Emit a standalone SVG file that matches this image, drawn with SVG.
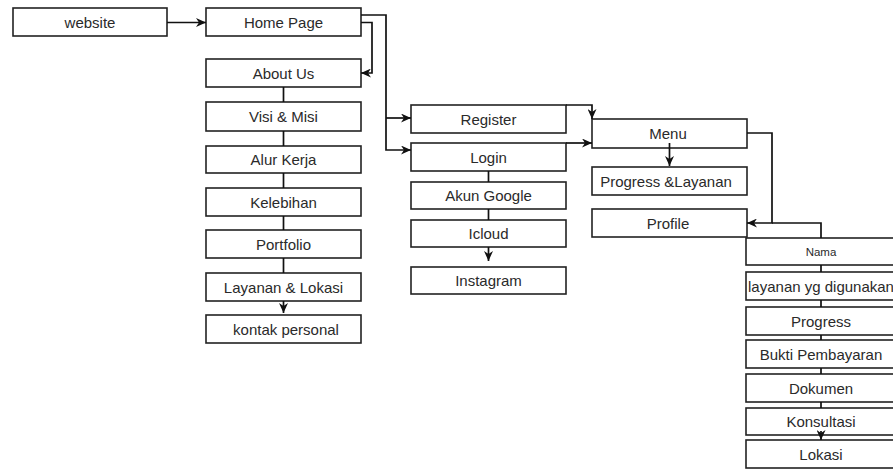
<svg xmlns="http://www.w3.org/2000/svg" width="893" height="470" viewBox="0 0 893 470">
<style>
.box{fill:#fff;stroke:#222;stroke-width:1.6}
.t{font-family:"Liberation Sans",Arial,sans-serif;font-size:15px;fill:#2a2a2a;text-anchor:middle;dominant-baseline:central}
.s{font-size:11.5px}
.c{fill:none;stroke:#111;stroke-width:1.7}
</style>
<defs>
<marker id="a" viewBox="0 0 10 9" markerWidth="10" markerHeight="9" refX="10" refY="4.5" orient="auto" markerUnits="userSpaceOnUse">
<path d="M0,0 L10,4.5 L0,9 L3,4.5 Z" fill="#111"/>
</marker>
</defs>
<rect width="893" height="470" fill="#fff"/>
<g id="website"><rect class="box" x="13" y="8" width="154" height="28"/><text class="t" x="90" y="22">website</text></g>
<g id="home"><rect class="box" x="206" y="8" width="155" height="28"/><text class="t" x="283.5" y="22">Home Page</text></g>
<g id="about"><rect class="box" x="206" y="59" width="155" height="28"/><text class="t" x="283.5" y="73">About Us</text></g>
<g id="visi"><rect class="box" x="206" y="102" width="155" height="29"/><text class="t" x="283.5" y="116.5">Visi &amp; Misi</text></g>
<g id="alur"><rect class="box" x="206" y="146" width="155" height="27"/><text class="t" x="283.5" y="159.5">Alur Kerja</text></g>
<g id="kelebihan"><rect class="box" x="206" y="188" width="155" height="28"/><text class="t" x="283.5" y="202">Kelebihan</text></g>
<g id="portfolio"><rect class="box" x="206" y="230" width="155" height="28"/><text class="t" x="283.5" y="244">Portfolio</text></g>
<g id="layanan-lokasi"><rect class="box" x="206" y="273" width="155" height="28"/><text class="t" x="283.5" y="287">Layanan &amp; Lokasi</text></g>
<g id="kontak"><rect class="box" x="206" y="315" width="155" height="28"/><text class="t" x="286" y="329">kontak personal</text></g>
<g id="register"><rect class="box" x="411" y="105" width="155" height="28"/><text class="t" x="488.5" y="119">Register</text></g>
<g id="login"><rect class="box" x="411" y="143" width="155" height="28"/><text class="t" x="488.5" y="157">Login</text></g>
<g id="google"><rect class="box" x="411" y="182" width="155" height="27"/><text class="t" x="488.5" y="195.5">Akun Google</text></g>
<g id="icloud"><rect class="box" x="411" y="220" width="155" height="27"/><text class="t" x="488.5" y="233.5">Icloud</text></g>
<g id="instagram"><rect class="box" x="411" y="267" width="155" height="27"/><text class="t" x="488.5" y="280.5">Instagram</text></g>
<g id="menu"><rect class="box" x="592" y="119" width="155" height="29"/><text class="t" x="668" y="133">Menu</text></g>
<g id="progress-layanan"><rect class="box" x="592" y="167" width="155" height="28"/><text class="t" x="666" y="181">Progress &amp;Layanan</text></g>
<g id="profile"><rect class="box" x="592" y="209" width="155" height="28"/><text class="t" x="668" y="223">Profile</text></g>
<g id="nama"><rect class="box" x="746" y="238" width="150" height="27"/><text class="t s" x="821" y="251.5">Nama</text></g>
<g id="layanan-digunakan"><rect class="box" x="746" y="272" width="150" height="28"/><text class="t" x="821" y="286">layanan yg digunakan</text></g>
<g id="progress"><rect class="box" x="746" y="307" width="150" height="28"/><text class="t" x="821" y="321">Progress</text></g>
<g id="bukti"><rect class="box" x="746" y="340" width="150" height="28"/><text class="t" x="821" y="354">Bukti Pembayaran</text></g>
<g id="dokumen"><rect class="box" x="746" y="374" width="150" height="28"/><text class="t" x="821" y="388">Dokumen</text></g>
<g id="konsultasi"><rect class="box" x="746" y="408" width="150" height="27"/><text class="t" x="821" y="421.5">Konsultasi</text></g>
<g id="lokasi"><rect class="box" x="746" y="440" width="150" height="28"/><text class="t" x="821" y="454">Lokasi</text></g>
<g id="connectors">
<path class="c" d="M167,22.5 H206" marker-end="url(#a)"/>
<path class="c" d="M361,22.5 H372 V73 H361" marker-end="url(#a)"/>
<path class="c" d="M361,15 H386 V150 H411" marker-end="url(#a)"/>
<path class="c" d="M386,118 H411" marker-end="url(#a)"/>
<path class="c" d="M283.5,87 V102 M283.5,131 V146 M283.5,173 V188 M283.5,216 V230 M283.5,258 V273"/>
<path class="c" d="M283.5,301 V313" marker-end="url(#a)"/>
<path class="c" d="M566,105 H592 V119" marker-end="url(#a)"/>
<path class="c" d="M566,143 H592" marker-end="url(#a)"/>
<path class="c" d="M488.5,171 V182 M488.5,209 V220"/>
<path class="c" d="M488.5,247 V261" marker-end="url(#a)"/>
<path class="c" d="M669.5,143 V166" marker-end="url(#a)"/>
<path class="c" d="M747,133 H772 V223 H747" marker-end="url(#a)"/>
<path class="c" d="M821,238 V223 H772"/>
<path class="c" d="M821,265 V272 M821,300 V307 M821,335 V340 M821,368 V374 M821,402 V408"/>
<path class="c" d="M821,431 V440" marker-end="url(#a)"/>
</g>
</svg>
